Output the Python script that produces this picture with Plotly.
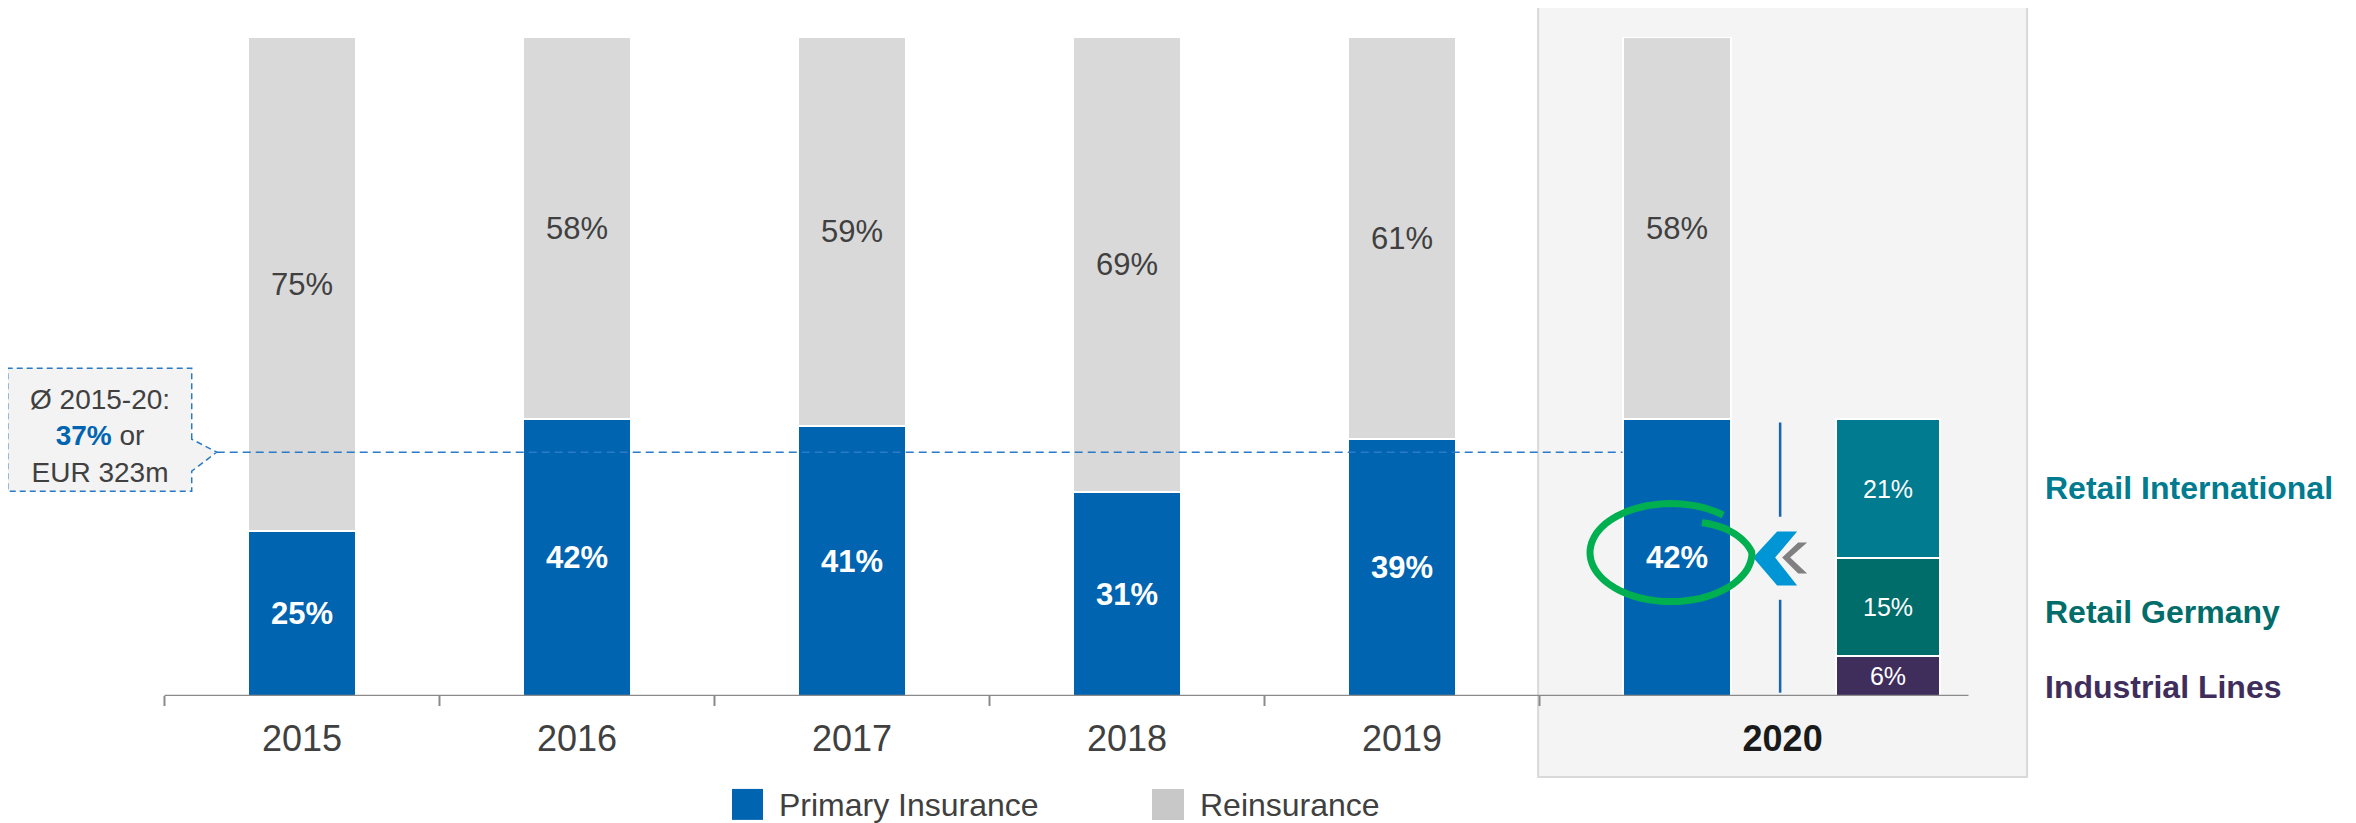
import math
import plotly.graph_objects as go

# shares of the combined result, in %
years = ['2015', '2016', '2017', '2018', '2019', '2020']
primary = [25, 42, 41, 31, 39, 42]
reinsurance = [75, 58, 59, 69, 61, 58]

# 2020 primary insurance split
seg_names = ['Industrial Lines', 'Retail Germany', 'Retail International']
seg_values = [6, 15, 21]
seg_colors = ['#3f2d5c', '#006d6b', '#007b8f']

avg_share = 37
callout_lines = ['Ø 2015-20:', '37%', ' or', 'EUR 323m']
legend_names = ['Primary Insurance', 'Reinsurance']

BLUE = '#0064b1'
GREY = '#d9d9d9'
TXT = '#404040'
FONT = 'Arial, Liberation Sans, sans-serif'

xs = list(range(len(years)))
bw = 0.396
split_x = 5.767
split_w = 0.378
sep_x = 5.375
box_x0, box_x1 = 4.495, 6.273

fig = go.Figure()
fig.add_trace(go.Bar(x=xs, y=primary, width=bw, name=legend_names[0],
                     marker=dict(color=BLUE, line=dict(color='white', width=2)),
                     text=[f'{v}%' for v in primary], textposition='inside',
                     insidetextanchor='middle', constraintext='none', textangle=0,
                     textfont=dict(color='white', size=31, family=FONT, weight='bold'),
                     showlegend=False))
fig.add_trace(go.Bar(x=xs, y=reinsurance, width=bw, name=legend_names[1],
                     marker=dict(color=GREY, line=dict(color='white', width=2)),
                     text=[f'{v}%' for v in reinsurance], textposition='inside',
                     insidetextanchor='middle', constraintext='none', textangle=0,
                     textfont=dict(color=TXT, size=31, family=FONT),
                     showlegend=False))
for name, v, c in zip(seg_names, seg_values, seg_colors):
    fig.add_trace(go.Bar(x=[split_x], y=[v], width=split_w, name=name,
                         marker=dict(color=c, line=dict(color='white', width=2)),
                         text=[f'{v}%'], textposition='inside', insidetextanchor='middle',
                         constraintext='none', textangle=0,
                         textfont=dict(color='white', size=25, family=FONT),
                         showlegend=False))

shapes = []
# highlighted 2020 box
shapes.append(dict(type='rect', xref='x', yref='paper', x0=box_x0, x1=box_x1, y0=-0.123, y1=1.046,
                   fillcolor='#f4f4f4', line=dict(color='#d9d9d9', width=2), layer='below'))
# axis line + boundary ticks
shapes.append(dict(type='line', xref='x', yref='y', x0=-0.5, x1=6.06, y0=0, y1=0,
                   line=dict(color='#8a8a8a', width=2.5)))
for b in [-0.5, 0.5, 1.5, 2.5, 3.5, 4.5]:
    shapes.append(dict(type='line', xref='x', yref='paper', x0=b, x1=b,
                       ysizemode='pixel', yanchor=0, y0=0, y1=-10,
                       line=dict(color='#8a8a8a', width=2)))
# average line and callout
tip_x = -0.31
shapes.append(dict(type='line', xref='x', yref='y', x0=tip_x, x1=5 - bw / 2,
                   y0=avg_share, y1=avg_share,
                   line=dict(color='#2a7ac7', width=1.5, dash='8px,5px')))
shapes.append(dict(type='path', xref='x', yref='y', xsizemode='pixel', ysizemode='pixel',
                   xanchor=tip_x, yanchor=avg_share,
                   path='M -25,13 L -25,84 L -209,84 L -209,-39 L -25,-39 L -25,-19 L 0,0 Z',
                   fillcolor='#f3f3f3', line=dict(color='#2a7ac7', width=1.5, dash='6px,4px')))
# separator between 2020 bar and split
for y0, y1 in [(41.5, 27.2), (14.6, 0.5)]:
    shapes.append(dict(type='line', xref='x', yref='y', x0=sep_x, x1=sep_x, y0=y0, y1=y1,
                       line=dict(color='#1565b0', width=2.5)))
# chevrons
shapes.append(dict(type='path', xref='x', yref='y', xsizemode='pixel', ysizemode='pixel',
                   xanchor=sep_x, yanchor=primary[5] / 2,
                   path='M 18,15 L 27,15 L 10,0 L 27,-16 L 18,-16 L 2,0 Z',
                   fillcolor='#808080', line=dict(width=0)))
shapes.append(dict(type='path', xref='x', yref='y', xsizemode='pixel', ysizemode='pixel',
                   xanchor=sep_x, yanchor=primary[5] / 2,
                   path='M -3,26 L 17,26 L -5,0 L 17,-28 L -3,-28 L -27,0 Z',
                   fillcolor='#0096d6', line=dict(width=0)))
# hand-drawn green ring around 2020 share (overlapping pen stroke)
pts = []
for i in range(91):
    deg = 50 + 368 * i / 90
    t = math.radians(deg)
    k = 1.0 if deg < 360 else 1 - 0.28 * (deg - 360) / 58
    pts.append((-6 + 81 * k * math.cos(t), 5 + 49 * k * math.sin(t)))
ring = 'M ' + ' L '.join(f'{px:.1f},{py:.1f}' for px, py in pts)
shapes.append(dict(type='path', xref='x', yref='y', xsizemode='pixel', ysizemode='pixel',
                   xanchor=5, yanchor=primary[5] / 2, path=ring,
                   line=dict(color='#00b050', width=7)))
# legend squares
shapes.append(dict(type='rect', xref='x', yref='paper', x0=1.5636, x1=1.6764,
                   y0=-0.188, y1=-0.141, fillcolor=BLUE, line=dict(width=0)))
shapes.append(dict(type='rect', xref='x', yref='paper', x0=3.0909, x1=3.2073,
                   y0=-0.188, y1=-0.141, fillcolor='#c8c8c8', line=dict(width=0)))

annotations = []
annotations.append(dict(x=-0.735, y=39.5, xref='x', yref='y', showarrow=False,
                        text=(f'{callout_lines[0]}<br><b><span style="color:{BLUE}">{callout_lines[1]}</span></b>'
                              f'{callout_lines[2]}<br>{callout_lines[3]}'),
                        font=dict(size=28, color=TXT, family=FONT), align='center'))
label_shift = [-11, -5, 0]
base = 0
for name, v, c, s in zip(seg_names, seg_values, seg_colors, label_shift):
    annotations.append(dict(x=6.331, y=base + v / 2, xref='x', yref='y', xanchor='left',
                            yanchor='middle', showarrow=False, text=f'<b>{name}</b>', yshift=s,
                            font=dict(size=32, color=c, family=FONT)))
    base += v
annotations.append(dict(x=1.7273, y=-0.165, xref='x', yref='paper', xanchor='left',
                        yanchor='middle', showarrow=False, text=legend_names[0],
                        font=dict(size=32, color=TXT, family=FONT)))
annotations.append(dict(x=3.2582, y=-0.165, xref='x', yref='paper', xanchor='left',
                        yanchor='middle', showarrow=False, text=legend_names[1],
                        font=dict(size=32, color=TXT, family=FONT)))

# 2020 label sits in the middle of the highlight box
tickvals = xs[:-1] + [(box_x0 + box_x1) / 2]
ticktext = years[:-1] + [f'<b><span style="color:#1a1a1a">{years[-1]}</span></b>']

# page body adds an 8px offset, so the figure is 8px smaller and shifted content
fig.update_layout(barmode='stack', width=2348, height=815,
                  margin=dict(l=0, r=0, t=29, b=127),
                  paper_bgcolor='white', plot_bgcolor='white',
                  shapes=shapes, annotations=annotations, bargap=0)
fig.update_xaxes(range=[-1.069, 7.469], tickvals=tickvals, ticktext=ticktext, showgrid=False,
                 zeroline=False, showline=False, ticks='', ticklabelstandoff=18,
                 tickfont=dict(size=36, color=TXT, family=FONT))
fig.update_yaxes(range=[0, 100], visible=False, showgrid=False)

fig.write_html("out.html")
